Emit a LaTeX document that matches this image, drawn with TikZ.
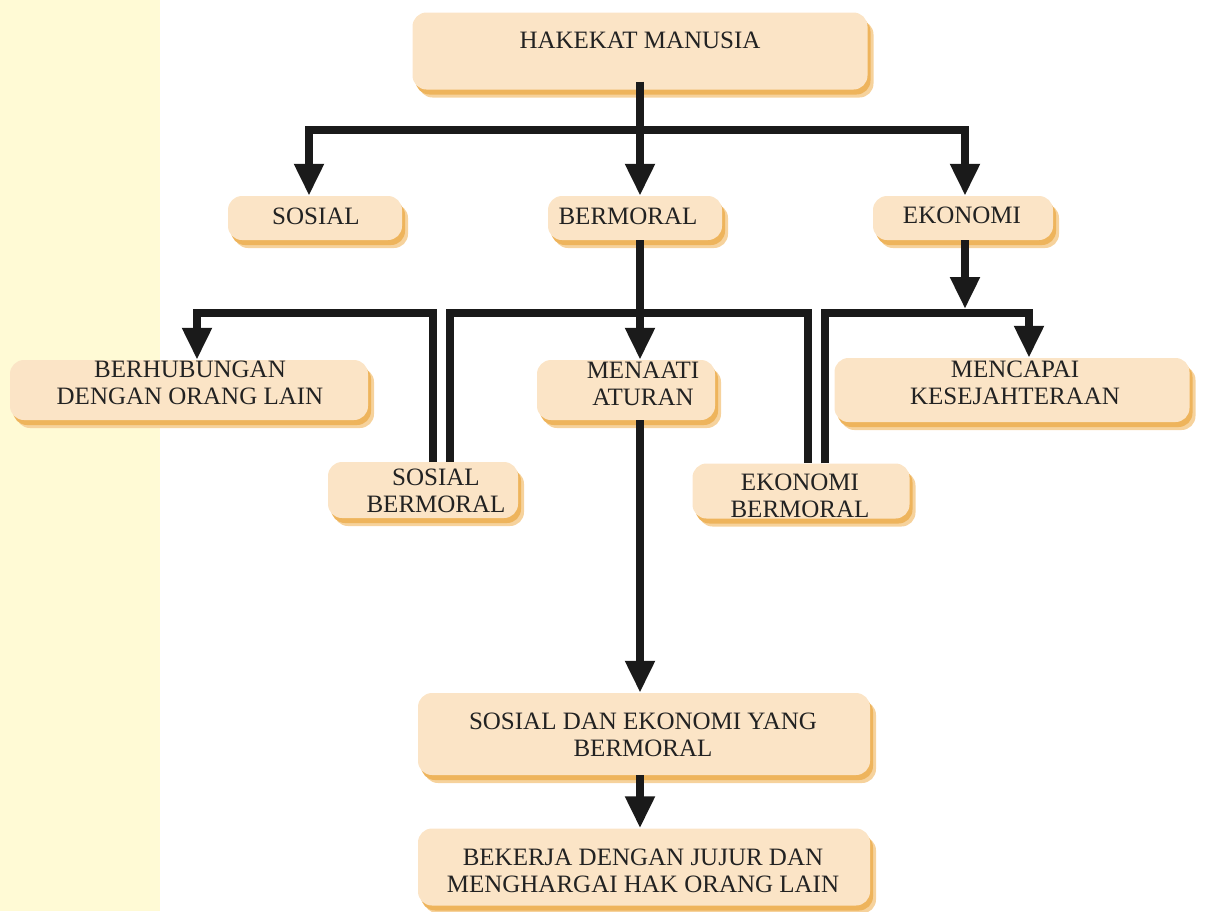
\documentclass[tikz,border=0pt]{standalone}
\usepackage{fontspec}
\setmainfont{Liberation Serif}
\usetikzlibrary{arrows.meta,shadows}
\definecolor{stripc}{HTML}{FFFAD5}
\definecolor{boxc}{HTML}{FBE4C6}
\definecolor{shadc}{HTML}{EEB45C}
\definecolor{shadl}{HTML}{F6D29C}
\definecolor{txtc}{HTML}{222222}
\definecolor{linec}{HTML}{1A1A1A}
\tikzset{
  box/.style={fill=boxc, rounded corners=14pt, inner sep=0pt,
    general shadow={fill=shadl, shadow xshift=6pt, shadow yshift=-8pt},
    general shadow={fill=shadc, shadow xshift=3pt, shadow yshift=-5pt}},
  lbl/.style={text=txtc, align=center, inner sep=0pt,
    font=\fontsize{25}{27.5}\selectfont},
  conn/.style={draw=linec, line width=8.5pt, line join=miter},
  arr/.style={conn, -{Triangle[width=28pt,length=32pt]}},
}
\begin{document}
\begin{tikzpicture}[x=1pt,y=-1pt]
\useasboundingbox (0,0) rectangle (1210,911);
\fill[stripc] (0,0) rectangle (160,911);

% boxes
\node[box, minimum width=455pt, minimum height=77pt] (hak) at (640,51) {};
\node[box, minimum width=174pt, minimum height=44pt] (sos) at (315,218) {};
\node[box, minimum width=174pt, minimum height=44pt] (ber) at (635,218) {};
\node[box, minimum width=180pt, minimum height=44pt] (eko) at (963,218) {};
\node[box, minimum width=358pt, minimum height=60pt] (bhb) at (189,390) {};
\node[box, minimum width=178pt, minimum height=60pt] (men) at (626,390) {};
\node[box, minimum width=355pt, minimum height=64pt] (mcp) at (1012,390) {};
\node[box, minimum width=190pt, minimum height=56pt] (sbm) at (423,490) {};
\node[box, minimum width=217pt, minimum height=55pt] (ebm) at (801,491) {};
\node[box, minimum width=452pt, minimum height=82pt] (sde) at (644,734) {};
\node[box, minimum width=452pt, minimum height=77pt] (bkj) at (644,867) {};

% texts
\node[lbl] (hakt) at (640,40) {HAKEKAT MANUSIA};
\node[lbl] (sost) at (316,216) {SOSIAL};
\node[lbl] (bert) at (628,216) {BERMORAL};
\node[lbl] (ekot) at (962,215) {EKONOMI};
\node[lbl] (bhbt) at (190,383) {BERHUBUNGAN\\DENGAN ORANG LAIN};
\node[lbl] (ment) at (643,384) {MENAATI\\ATURAN};
\node[lbl] (mcpt) at (1015,383) {MENCAPAI\\KESEJAHTERAAN};
\node[lbl] (sbmt) at (436,491) {SOSIAL\\BERMORAL};
\node[lbl] (ebmt) at (800,496) {EKONOMI\\BERMORAL};
\node[lbl] (sdet) at (643,735) {SOSIAL DAN EKONOMI YANG\\BERMORAL};
\node[lbl] (bkjt) at (643,871) {BEKERJA DENGAN JUJUR DAN\\MENGHARGAI HAK ORANG LAIN};

% junction coordinates
\coordinate (j1) at (640,130);
\coordinate (cL) at (309,130);
\coordinate (cR) at (965,130);
\coordinate (l1) at (197,313);
\coordinate (l2) at (433,313);
\coordinate (m1) at (450,313);
\coordinate (m2) at (808,313);
\coordinate (r0) at (965,309);
\coordinate (r1) at (825,313);
\coordinate (r2) at (1029,313);

% connectors
\draw[arr] ([yshift=8pt]hak.south -| j1) -- (ber.north -| j1);
\draw[arr] (j1) -- (cL) -- (sos.north -| cL);
\draw[arr] (j1) -- (cR) -- (eko.north -| cR);
\draw[arr] (ber.south -| j1) -- (men.north -| j1);
\draw[arr] (sbm.north -| l2) -- (l2) -- (l1) -- (bhb.north -| l1);
\draw[conn] (sbm.north -| m1) -- (m1) -- (m2) -- (ebm.north -| m2);
\draw[arr] (eko.south -| r0) -- (r0);
\draw[arr] (ebm.north -| r1) -- (r1) -- (r2) -- (mcp.north -| r2);
\draw[arr] (men.south -| j1) -- (sde.north -| j1);
\draw[arr] (sde.south -| j1) -- (bkj.north -| j1);
\end{tikzpicture}
\end{document}
